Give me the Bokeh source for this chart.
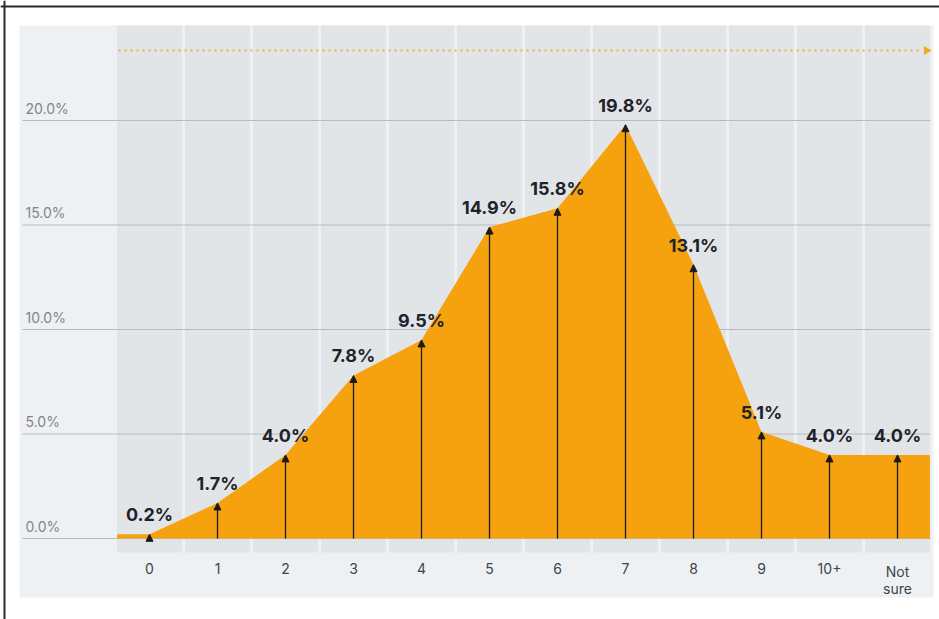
import math
from bokeh.plotting import figure
from bokeh.models import Range1d, ColumnDataSource, Arrow, NormalHead, BoxAnnotation, Span
from bokeh.core.properties import value
from bokeh.embed import file_html
from bokeh.resources import INLINE

# ---- data ----
categories = ["0", "1", "2", "3", "4", "5", "6", "7", "8", "9", "10+", "Not\nsure"]
shares = [0.2, 1.7, 4.0, 7.8, 9.5, 14.9, 15.8, 19.8, 13.1, 5.1, 4.0, 4.0]
value_labels = ["0.2%", "1.7%", "4.0%", "7.8%", "9.5%", "14.9%", "15.8%",
                "19.8%", "13.1%", "5.1%", "4.0%", "4.0%"]
y_ticks = [0, 5, 10, 15, 20]
y_tick_labels = ["0.0%", "5.0%", "10.0%", "15.0%", "20.0%"]

# ---- canvas mapping (pixel -> data) for decoration ----
W, H = 939, 619
X0_PX, X_STEP = 149, 68
Y0_PX, Y_STEP = 538, 20.9


def sx(px):
    return (px - X0_PX) / X_STEP


def sy(py):
    return (Y0_PX - py) / Y_STEP


p = figure(width=W, height=H,
           x_range=Range1d(sx(0), sx(W)), y_range=Range1d(sy(H), sy(0)),
           output_backend="svg", toolbar_location=None,
           x_axis_location=None, y_axis_location=None,
           min_border=0, background_fill_color="white",
           border_fill_color="white", outline_line_color=None)
p.grid.visible = False

FONT = value("Inter")

# outer panel
p.add_layout(BoxAnnotation(left=sx(19), right=sx(933), top=sy(25), bottom=sy(597),
                           fill_color="#eef1f3", fill_alpha=1, line_color=None,
                           level="underlay"))

xs = list(range(len(categories)))

# column bands
p.vbar(x=xs, width=0.956, bottom=sy(552), top=sy(25),
       fill_color="#e1e5e8", line_color=None)

# horizontal grid lines
p.segment(x0=[sx(22)] * len(y_ticks), x1=[sx(930)] * len(y_ticks),
          y0=y_ticks, y1=y_ticks, line_color="#b7bbbf", line_width=1)

# dotted arrow on top
p.line(x=[sx(118), sx(922)], y=[sy(50), sy(50)], line_dash="2 4",
       line_color="#e9b43c", line_width=2)
p.scatter(x=[sx(926)], y=[sy(50)], marker="triangle", angle=-math.pi / 2,
          size=9, fill_color="#eeaa22", line_color=None)

# area
half = 0.478
ax = [xs[0] - half] + xs + [xs[-1] + half]
ay = [shares[0]] + shares + [shares[-1]]
p.varea(x=ax, y1=[0] * len(ax), y2=ay, fill_color="#f5a20e")

# arrows
src = ColumnDataSource(dict(x=xs, y0=[0] * len(xs), y=shares))
p.add_layout(Arrow(end=NormalHead(size=7, fill_color="#1b1b1b", line_color="#1b1b1b",
                                  line_width=1),
                   x_start="x", y_start="y0", x_end="x", y_end="y", source=src,
                   line_color="#1b1b1b", line_width=1.3))

# value labels
p.text(x=xs, y=shares, text=value_labels, text_align="center", text_baseline="bottom",
       y_offset=-9, text_font=FONT, text_font_style="bold",
       text_font_size="18px", text_color="#1f2329")

# y tick labels
p.text(x=[sx(25)] * len(y_ticks), y=y_ticks, text=y_tick_labels, text_align="left",
       text_baseline="bottom", y_offset=-4, text_font=FONT,
       text_font_size="14px", text_color="#80858b")

# x category labels
p.text(x=xs, y=[sy(562)] * len(xs), text=categories, text_align="center",
       text_baseline="top", text_font=FONT, text_font_size="14px",
       text_color="#3f444a", text_line_height=1.05)

# frame lines
p.add_layout(Span(location=sy(6), dimension="width", line_color="#2a2a2a", line_width=2))
p.add_layout(Span(location=sx(4), dimension="height", line_color="#2a2a2a", line_width=2))

open("out.html", "w").write(file_html(p, INLINE))
